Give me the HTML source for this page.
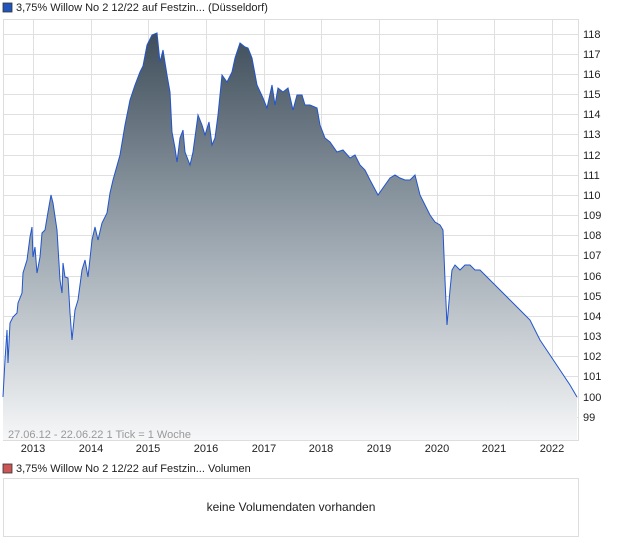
<!DOCTYPE html>
<html><head><meta charset="utf-8"><style>
body{margin:0;background:#fff;width:620px;height:546px;overflow:hidden;font-family:"Liberation Sans",sans-serif;}
</style></head><body>
<svg width="620" height="546" xmlns="http://www.w3.org/2000/svg" font-family="Liberation Sans, sans-serif">
<defs><linearGradient id="g" x1="0" y1="0" x2="0" y2="1"><stop offset="0" stop-color="#3f4e5b"/><stop offset="0.5" stop-color="#9aa5ae"/><stop offset="1" stop-color="#f6f7f8"/></linearGradient></defs>
<rect x="3" y="3" width="9" height="9" fill="#2255bb" stroke="#333" stroke-width="0.8"/>
<text x="16" y="11" font-size="11" fill="#222">3,75% Willow No 2 12/22 auf Festzin... (Düsseldorf)</text>
<rect x="3.5" y="19.5" width="575" height="421" fill="#fff" stroke="#ddd"/>
<g stroke="#e0e0e0" stroke-width="1">
<line x1="3" x2="578" y1="34.5" y2="34.5"/><line x1="3" x2="578" y1="54.5" y2="54.5"/><line x1="3" x2="578" y1="74.5" y2="74.5"/><line x1="3" x2="578" y1="94.5" y2="94.5"/><line x1="3" x2="578" y1="114.5" y2="114.5"/><line x1="3" x2="578" y1="134.5" y2="134.5"/><line x1="3" x2="578" y1="155.5" y2="155.5"/><line x1="3" x2="578" y1="175.5" y2="175.5"/><line x1="3" x2="578" y1="195.5" y2="195.5"/><line x1="3" x2="578" y1="215.5" y2="215.5"/><line x1="3" x2="578" y1="235.5" y2="235.5"/><line x1="3" x2="578" y1="255.5" y2="255.5"/><line x1="3" x2="578" y1="276.5" y2="276.5"/><line x1="3" x2="578" y1="296.5" y2="296.5"/><line x1="3" x2="578" y1="316.5" y2="316.5"/><line x1="3" x2="578" y1="336.5" y2="336.5"/><line x1="3" x2="578" y1="356.5" y2="356.5"/><line x1="3" x2="578" y1="376.5" y2="376.5"/><line x1="3" x2="578" y1="397.5" y2="397.5"/><line x1="3" x2="578" y1="417.5" y2="417.5"/>
<line x1="33.5" x2="33.5" y1="19" y2="440"/><line x1="91.5" x2="91.5" y1="19" y2="440"/><line x1="148.5" x2="148.5" y1="19" y2="440"/><line x1="206.5" x2="206.5" y1="19" y2="440"/><line x1="264.5" x2="264.5" y1="19" y2="440"/><line x1="321.5" x2="321.5" y1="19" y2="440"/><line x1="379.5" x2="379.5" y1="19" y2="440"/><line x1="437.5" x2="437.5" y1="19" y2="440"/><line x1="494.5" x2="494.5" y1="19" y2="440"/><line x1="552.5" x2="552.5" y1="19" y2="440"/>
</g>
<path id="d" d="M3,397 L5,360 L7,330 L8,363 L10,323 L13,317 L17,313 L18,303 L22,293 L23,273 L27,260 L30,237 L32,227 L33,257 L35,247 L37,273 L40,257 L42,233 L45,230 L48,212 L51,195 L53,203 L57,230 L60,280 L62,293 L63,263 L65,277 L68,278 L70,313 L72,340 L75,310 L78,300 L82,270 L85,260 L88,277 L92,240 L95,227 L98,240 L102,223 L107,213 L110,193 L113,180 L120,155 L125,125 L130,100 L135,85 L140,72 L143,66 L147,45 L152,35 L157,33 L160,62 L163,50 L167,75 L170,92 L172,132 L175,148 L177,162 L180,138 L183,130 L185,152 L190,165 L193,152 L198,115 L202,125 L205,135 L209,122 L212,145 L215,138 L218,115 L222,75 L227,82 L232,72 L235,58 L240,43 L245,47 L248,48 L252,58 L257,85 L263,98 L267,108 L272,85 L275,105 L278,88 L283,92 L288,88 L293,110 L297,95 L302,95 L305,105 L310,105 L317,108 L320,125 L325,138 L330,142 L337,152 L343,150 L350,158 L355,155 L360,165 L365,170 L370,180 L378,195 L385,185 L390,178 L395,175 L400,178 L405,180 L410,180 L415,175 L420,195 L425,205 L430,215 L435,222 L440,225 L443,230 L445,280 L447,325 L450,290 L452,270 L455,265 L460,270 L465,265 L470,265 L475,270 L480,270 L485,275 L490,280 L500,290 L510,300 L520,310 L530,320 L540,340 L550,355 L560,370 L570,385 L577,397"/>
<path d="M3,440 L3,397 L5,360 L7,330 L8,363 L10,323 L13,317 L17,313 L18,303 L22,293 L23,273 L27,260 L30,237 L32,227 L33,257 L35,247 L37,273 L40,257 L42,233 L45,230 L48,212 L51,195 L53,203 L57,230 L60,280 L62,293 L63,263 L65,277 L68,278 L70,313 L72,340 L75,310 L78,300 L82,270 L85,260 L88,277 L92,240 L95,227 L98,240 L102,223 L107,213 L110,193 L113,180 L120,155 L125,125 L130,100 L135,85 L140,72 L143,66 L147,45 L152,35 L157,33 L160,62 L163,50 L167,75 L170,92 L172,132 L175,148 L177,162 L180,138 L183,130 L185,152 L190,165 L193,152 L198,115 L202,125 L205,135 L209,122 L212,145 L215,138 L218,115 L222,75 L227,82 L232,72 L235,58 L240,43 L245,47 L248,48 L252,58 L257,85 L263,98 L267,108 L272,85 L275,105 L278,88 L283,92 L288,88 L293,110 L297,95 L302,95 L305,105 L310,105 L317,108 L320,125 L325,138 L330,142 L337,152 L343,150 L350,158 L355,155 L360,165 L365,170 L370,180 L378,195 L385,185 L390,178 L395,175 L400,178 L405,180 L410,180 L415,175 L420,195 L425,205 L430,215 L435,222 L440,225 L443,230 L445,280 L447,325 L450,290 L452,270 L455,265 L460,270 L465,265 L470,265 L475,270 L480,270 L485,275 L490,280 L500,290 L510,300 L520,310 L530,320 L540,340 L550,355 L560,370 L570,385 L577,397 L577,440 Z" fill="url(#g)"/>
<use href="#d" fill="none" stroke="#2255cc" stroke-width="1"/>
<g font-size="11" fill="#222">
<text x="583" y="38">118</text><text x="583" y="58">117</text><text x="583" y="78">116</text><text x="583" y="98">115</text><text x="583" y="118">114</text><text x="583" y="138">113</text><text x="583" y="159">112</text><text x="583" y="179">111</text><text x="583" y="199">110</text><text x="583" y="219">109</text><text x="583" y="239">108</text><text x="583" y="259">107</text><text x="583" y="280">106</text><text x="583" y="300">105</text><text x="583" y="320">104</text><text x="583" y="340">103</text><text x="583" y="360">102</text><text x="583" y="380">101</text><text x="583" y="401">100</text><text x="583" y="421">99</text>
</g>
<text x="8" y="438" font-size="11" fill="#999">27.06.12 - 22.06.22   1 Tick = 1 Woche</text>
<g font-size="11" fill="#222" text-anchor="middle">
<text x="33" y="452">2013</text><text x="91" y="452">2014</text><text x="148" y="452">2015</text><text x="206" y="452">2016</text><text x="264" y="452">2017</text><text x="321" y="452">2018</text><text x="379" y="452">2019</text><text x="437" y="452">2020</text><text x="494" y="452">2021</text><text x="552" y="452">2022</text>
</g>
<rect x="3" y="464" width="9" height="9" fill="#cc5555" stroke="#333" stroke-width="0.8"/>
<text x="16" y="472" font-size="11" fill="#222">3,75% Willow No 2 12/22 auf Festzin... Volumen</text>
<rect x="3.5" y="478.5" width="575" height="58" fill="#fff" stroke="#ddd"/>
<text x="291" y="511" font-size="12" fill="#222" text-anchor="middle">keine Volumendaten vorhanden</text>
</svg>
</body></html>
